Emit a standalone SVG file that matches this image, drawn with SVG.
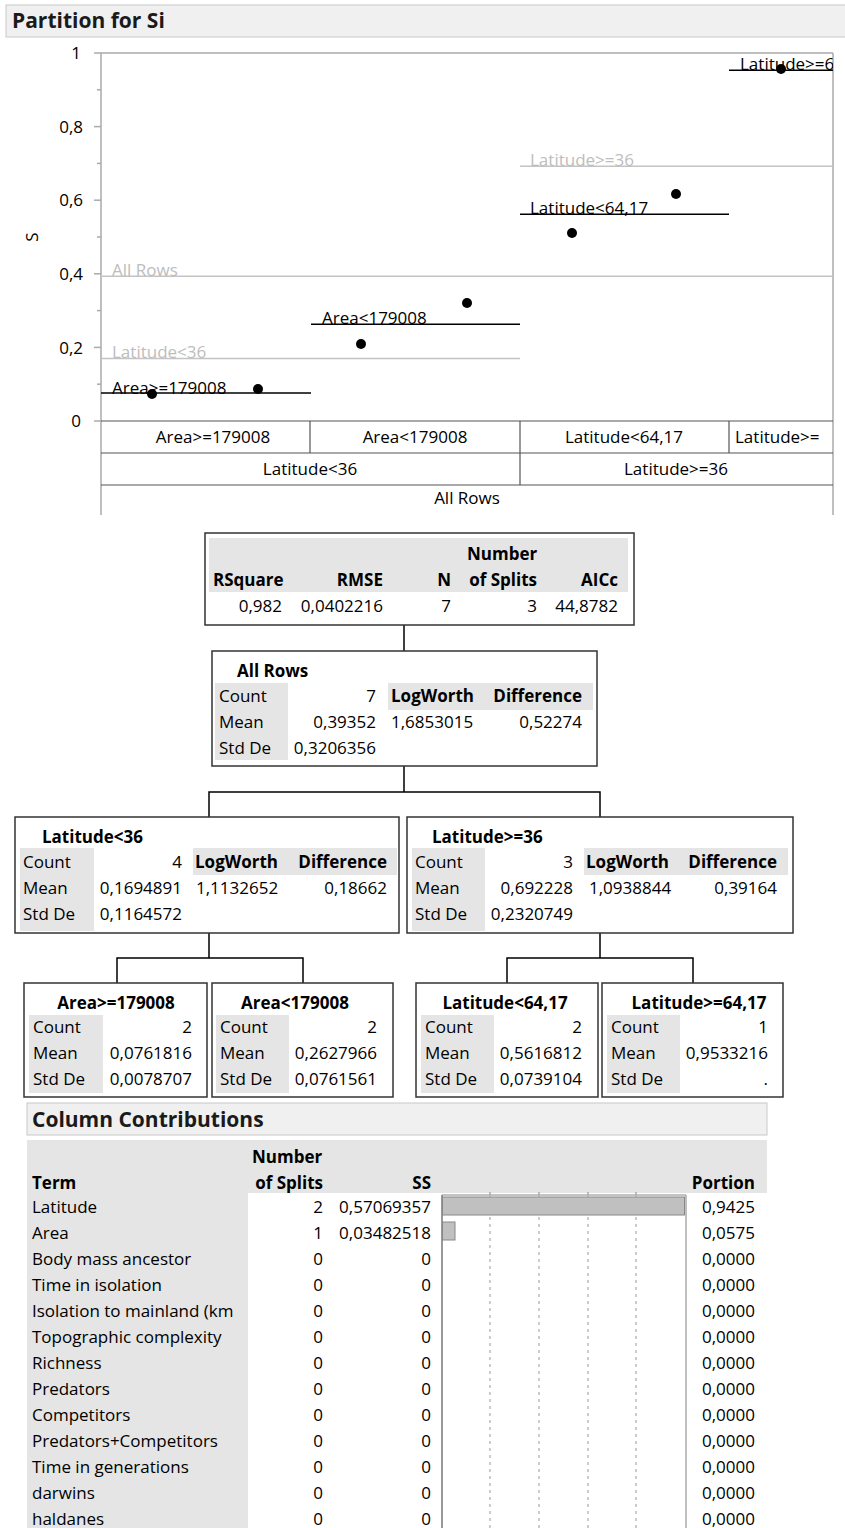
<svg xmlns="http://www.w3.org/2000/svg" width="845" height="1528" viewBox="0 0 845 1528">
<style>
text{font-family:"Open Sans","Noto Sans","Liberation Sans",sans-serif;font-size:17px;fill:#000}
.b{font-weight:bold}
.e{text-anchor:end}
.m{text-anchor:middle}
.h{font-size:21px;font-weight:bold;fill:#1a1a1a}
.gl{fill:#bdbdbd}
.box{fill:#fff;stroke:#333;stroke-width:1.5}
.band{fill:#e5e5e5}
.ax{stroke:#aaa;stroke-width:1.5;fill:none}
.tb{stroke:#555;stroke-width:1.2;fill:none}
.fit{stroke:#000;stroke-width:1.5}
.gfit{stroke:#c4c4c4;stroke-width:1.5}
.con{stroke:#000;stroke-width:1.5;fill:none}
.dot{fill:#000}
.dash{stroke:#999;stroke-width:1;stroke-dasharray:3,4}
</style>
<defs>
<clipPath id="plotclip"><rect x="101" y="40" width="732" height="380"/></clipPath>
<clipPath id="cellclip"><rect x="729" y="421" width="104" height="31"/></clipPath>
</defs>

<g id="header">
<rect x="6" y="5" width="845" height="32" fill="#f0f0f0" stroke="#c8c8c8"/>
<text x="12" y="28" class="h">Partition for Si</text>
</g>

<g id="plot">
<line class="ax" x1="101" y1="53" x2="101" y2="515"/>
<line class="ax" x1="101" y1="53" x2="833" y2="53"/>
<line class="ax" x1="833" y1="53" x2="833" y2="515"/>
<g class="ax">
<line x1="94" y1="53" x2="101" y2="53"/>
<line x1="94" y1="126.6" x2="101" y2="126.6"/>
<line x1="94" y1="200.2" x2="101" y2="200.2"/>
<line x1="94" y1="273.8" x2="101" y2="273.8"/>
<line x1="94" y1="347.4" x2="101" y2="347.4"/>
<line x1="94" y1="421" x2="101" y2="421"/>
<line x1="97" y1="89.8" x2="101" y2="89.8"/>
<line x1="97" y1="163.4" x2="101" y2="163.4"/>
<line x1="97" y1="237" x2="101" y2="237"/>
<line x1="97" y1="310.6" x2="101" y2="310.6"/>
<line x1="97" y1="384.2" x2="101" y2="384.2"/>
</g>
<text x="81" y="59" class="e">1</text>
<text x="83" y="133" class="e">0,8</text>
<text x="83" y="206" class="e">0,6</text>
<text x="83" y="280" class="e">0,4</text>
<text x="83" y="354" class="e">0,2</text>
<text x="81" y="427" class="e">0</text>
<text x="0" y="0" class="m" transform="translate(38,237) rotate(-90)">S</text>

<line class="gfit" x1="101" y1="276.2" x2="833" y2="276.2"/>
<line class="gfit" x1="101" y1="358.6" x2="520" y2="358.6"/>
<line class="gfit" x1="520" y1="166.3" x2="833" y2="166.3"/>
<text x="112" y="276" class="gl">All Rows</text>
<text x="112" y="358" class="gl">Latitude&lt;36</text>
<text x="530" y="166" class="gl">Latitude&gt;=36</text>

<line class="fit" x1="101" y1="393" x2="311" y2="393"/>
<line class="fit" x1="311" y1="324.3" x2="520" y2="324.3"/>
<line class="fit" x1="520" y1="214.3" x2="729" y2="214.3"/>
<line class="fit" x1="729" y1="70.2" x2="833" y2="70.2"/>
<text x="112" y="394">Area&gt;=179008</text>
<text x="322" y="324">Area&lt;179008</text>
<text x="530" y="214">Latitude&lt;64,17</text>
<text x="740" y="70" clip-path="url(#plotclip)">Latitude&gt;=64,17</text>

<circle class="dot" cx="152" cy="394" r="5"/>
<circle class="dot" cx="258" cy="389" r="5"/>
<circle class="dot" cx="361" cy="344" r="5"/>
<circle class="dot" cx="467" cy="303" r="5"/>
<circle class="dot" cx="572" cy="233" r="5"/>
<circle class="dot" cx="676" cy="194" r="5"/>
<circle class="dot" cx="781" cy="69" r="5"/>

<line class="tb" x1="101" y1="421" x2="833" y2="421"/>
<line class="tb" x1="101" y1="453" x2="833" y2="453"/>
<line class="tb" x1="101" y1="485" x2="833" y2="485"/>
<line class="tb" x1="310" y1="421" x2="310" y2="453"/>
<line class="tb" x1="520" y1="421" x2="520" y2="485"/>
<line class="tb" x1="729" y1="421" x2="729" y2="453"/>
<text x="213" y="443" class="m">Area&gt;=179008</text>
<text x="415" y="443" class="m">Area&lt;179008</text>
<text x="624" y="443" class="m">Latitude&lt;64,17</text>
<text x="735" y="443">Latitude&gt;=</text>
<text x="781" y="466" class="m" clip-path="url(#cellclip)">64,17</text>
<text x="310" y="475" class="m">Latitude&lt;36</text>
<text x="676" y="475" class="m">Latitude&gt;=36</text>
<text x="467" y="504" class="m">All Rows</text>
</g>

<g id="connectors">
<path class="con" d="M404,625V651"/>
<path class="con" d="M404,766V792M209,817V792H600V817"/>
<path class="con" d="M209,933V958M117,983V958H303V983"/>
<path class="con" d="M600,933V958M507,983V958H693V983"/>
</g>

<g id="summary">
<rect class="box" x="205" y="533" width="429" height="92"/>
<rect class="band" x="209" y="538" width="419" height="54"/>
<text x="467" y="560" class="b">Number</text>
<text x="213" y="586" class="b">RSquare</text>
<text x="383" y="586" class="b e">RMSE</text>
<text x="451" y="586" class="b e">N</text>
<text x="537" y="586" class="b e">of Splits</text>
<text x="618" y="586" class="b e">AICc</text>
<text x="282" y="612" class="e">0,982</text>
<text x="383" y="612" class="e">0,0402216</text>
<text x="451" y="612" class="e">7</text>
<text x="537" y="612" class="e">3</text>
<text x="618" y="612" class="e">44,8782</text>
</g>

<g id="node-all-rows">
<rect class="box" x="212" y="651" width="385" height="115"/>
<text x="237" y="677" class="b">All Rows</text>
<rect class="band" x="215" y="683" width="73" height="77"/>
<text x="219" y="702">Count</text>
<text x="219" y="728">Mean</text>
<text x="219" y="754">Std De</text>
<text x="376" y="702" class="e">7</text>
<text x="376" y="728" class="e">0,39352</text>
<text x="376" y="754" class="e">0,3206356</text>
<rect class="band" x="388" y="683" width="205" height="27"/>
<text x="391" y="702" class="b">LogWorth</text>
<text x="582" y="702" class="b e">Difference</text>
<text x="391" y="728">1,6853015</text>
<text x="582" y="728" class="e">0,52274</text>
</g>

<g id="node-lat-lt-36">
<rect class="box" x="15" y="817" width="384" height="116"/>
<text x="42" y="843" class="b">Latitude&lt;36</text>
<rect class="band" x="20" y="848" width="74" height="83"/>
<text x="23" y="868">Count</text>
<text x="23" y="894">Mean</text>
<text x="23" y="920">Std De</text>
<text x="182" y="868" class="e">4</text>
<text x="182" y="894" class="e">0,1694891</text>
<text x="182" y="920" class="e">0,1164572</text>
<rect class="band" x="193" y="848" width="204" height="27"/>
<text x="195" y="868" class="b">LogWorth</text>
<text x="387" y="868" class="b e">Difference</text>
<text x="196" y="894">1,1132652</text>
<text x="387" y="894" class="e">0,18662</text>
</g>

<g id="node-lat-ge-36">
<rect class="box" x="407" y="817" width="386" height="116"/>
<text x="432" y="843" class="b">Latitude&gt;=36</text>
<rect class="band" x="412" y="848" width="73" height="83"/>
<text x="415" y="868">Count</text>
<text x="415" y="894">Mean</text>
<text x="415" y="920">Std De</text>
<text x="573" y="868" class="e">3</text>
<text x="573" y="894" class="e">0,692228</text>
<text x="573" y="920" class="e">0,2320749</text>
<rect class="band" x="584" y="848" width="204" height="27"/>
<text x="586" y="868" class="b">LogWorth</text>
<text x="777" y="868" class="b e">Difference</text>
<text x="589" y="894">1,0938844</text>
<text x="777" y="894" class="e">0,39164</text>
</g>

<g id="node-area-ge">
<rect class="box" x="24" y="983" width="183" height="114"/>
<text x="116" y="1009" class="b m">Area&gt;=179008</text>
<rect class="band" x="29" y="1015" width="74" height="78"/>
<text x="33" y="1033">Count</text>
<text x="33" y="1059">Mean</text>
<text x="33" y="1085">Std De</text>
<text x="192" y="1033" class="e">2</text>
<text x="192" y="1059" class="e">0,0761816</text>
<text x="192" y="1085" class="e">0,0078707</text>
</g>

<g id="node-area-lt">
<rect class="box" x="212" y="983" width="181" height="114"/>
<text x="295" y="1009" class="b m">Area&lt;179008</text>
<rect class="band" x="216" y="1015" width="73" height="78"/>
<text x="220" y="1033">Count</text>
<text x="220" y="1059">Mean</text>
<text x="220" y="1085">Std De</text>
<text x="377" y="1033" class="e">2</text>
<text x="377" y="1059" class="e">0,2627966</text>
<text x="377" y="1085" class="e">0,0761561</text>
</g>

<g id="node-lat-lt-6417">
<rect class="box" x="416" y="983" width="182" height="114"/>
<text x="505" y="1009" class="b m">Latitude&lt;64,17</text>
<rect class="band" x="421" y="1015" width="73" height="78"/>
<text x="425" y="1033">Count</text>
<text x="425" y="1059">Mean</text>
<text x="425" y="1085">Std De</text>
<text x="582" y="1033" class="e">2</text>
<text x="582" y="1059" class="e">0,5616812</text>
<text x="582" y="1085" class="e">0,0739104</text>
</g>

<g id="node-lat-ge-6417">
<rect class="box" x="602" y="983" width="181" height="114"/>
<text x="699" y="1009" class="b m">Latitude&gt;=64,17</text>
<rect class="band" x="607" y="1015" width="73" height="78"/>
<text x="611" y="1033">Count</text>
<text x="611" y="1059">Mean</text>
<text x="611" y="1085">Std De</text>
<text x="768" y="1033" class="e">1</text>
<text x="768" y="1059" class="e">0,9533216</text>
<text x="768" y="1085" class="e">.</text>
</g>

<g id="column-contributions">
<rect x="27" y="1103" width="740" height="32" fill="#f0f0f0" stroke="#c8c8c8"/>
<text x="32" y="1127" class="h">Column Contributions</text>
<rect class="band" x="27" y="1140" width="740" height="53"/>
<rect class="band" x="27" y="1193" width="221" height="335"/>
<text x="252" y="1163" class="b">Number</text>
<text x="32" y="1189" class="b">Term</text>
<text x="323" y="1189" class="b e">of Splits</text>
<text x="431" y="1189" class="b e">SS</text>
<text x="755" y="1189" class="b e">Portion</text>

<rect x="442" y="1193" width="244" height="340" fill="#fff"/>
<g class="dash">
<line x1="490" y1="1196" x2="490" y2="1528"/>
<line x1="539" y1="1196" x2="539" y2="1528"/>
<line x1="588" y1="1196" x2="588" y2="1528"/>
<line x1="636" y1="1196" x2="636" y2="1528"/>
</g>
<g stroke="#888" stroke-width="1">
<line x1="442" y1="1195" x2="686" y2="1195"/>
<line x1="490" y1="1192" x2="490" y2="1195"/>
<line x1="539" y1="1192" x2="539" y2="1195"/>
<line x1="588" y1="1192" x2="588" y2="1195"/>
<line x1="636" y1="1192" x2="636" y2="1195"/>
</g>
<line x1="442" y1="1195" x2="442" y2="1528" stroke="#777" stroke-width="1.5"/>
<line x1="686" y1="1195" x2="686" y2="1528" stroke="#aaa" stroke-width="1.5"/>
<rect x="442.5" y="1197" width="242" height="18" fill="#c0c0c0" stroke="#888"/>
<rect x="442.5" y="1222" width="12.5" height="18" fill="#c0c0c0" stroke="#888"/>

<text x="32" y="1213">Latitude</text>
<text x="323" y="1213" class="e">2</text>
<text x="431" y="1213" class="e">0,57069357</text>
<text x="755" y="1213" class="e">0,9425</text>

<text x="32" y="1239">Area</text>
<text x="323" y="1239" class="e">1</text>
<text x="431" y="1239" class="e">0,03482518</text>
<text x="755" y="1239" class="e">0,0575</text>

<text x="32" y="1265">Body mass ancestor</text>
<text x="323" y="1265" class="e">0</text>
<text x="431" y="1265" class="e">0</text>
<text x="755" y="1265" class="e">0,0000</text>

<text x="32" y="1291">Time in isolation</text>
<text x="323" y="1291" class="e">0</text>
<text x="431" y="1291" class="e">0</text>
<text x="755" y="1291" class="e">0,0000</text>

<text x="32" y="1317">Isolation to mainland (km</text>
<text x="323" y="1317" class="e">0</text>
<text x="431" y="1317" class="e">0</text>
<text x="755" y="1317" class="e">0,0000</text>

<text x="32" y="1343">Topographic complexity</text>
<text x="323" y="1343" class="e">0</text>
<text x="431" y="1343" class="e">0</text>
<text x="755" y="1343" class="e">0,0000</text>

<text x="32" y="1369">Richness</text>
<text x="323" y="1369" class="e">0</text>
<text x="431" y="1369" class="e">0</text>
<text x="755" y="1369" class="e">0,0000</text>

<text x="32" y="1395">Predators</text>
<text x="323" y="1395" class="e">0</text>
<text x="431" y="1395" class="e">0</text>
<text x="755" y="1395" class="e">0,0000</text>

<text x="32" y="1421">Competitors</text>
<text x="323" y="1421" class="e">0</text>
<text x="431" y="1421" class="e">0</text>
<text x="755" y="1421" class="e">0,0000</text>

<text x="32" y="1447">Predators+Competitors</text>
<text x="323" y="1447" class="e">0</text>
<text x="431" y="1447" class="e">0</text>
<text x="755" y="1447" class="e">0,0000</text>

<text x="32" y="1473">Time in generations</text>
<text x="323" y="1473" class="e">0</text>
<text x="431" y="1473" class="e">0</text>
<text x="755" y="1473" class="e">0,0000</text>

<text x="32" y="1499">darwins</text>
<text x="323" y="1499" class="e">0</text>
<text x="431" y="1499" class="e">0</text>
<text x="755" y="1499" class="e">0,0000</text>

<text x="32" y="1525">haldanes</text>
<text x="323" y="1525" class="e">0</text>
<text x="431" y="1525" class="e">0</text>
<text x="755" y="1525" class="e">0,0000</text>
</g>
</svg>
